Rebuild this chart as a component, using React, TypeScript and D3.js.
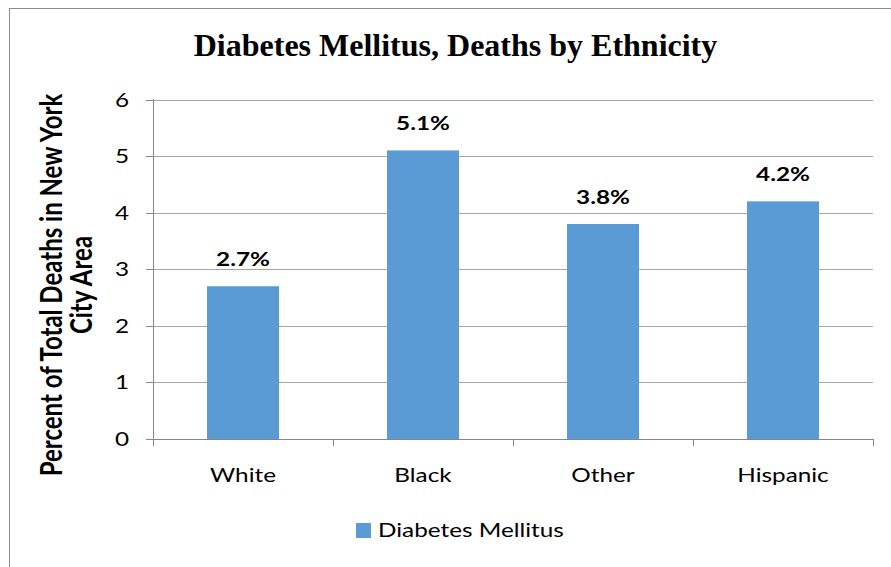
import React from "react";
import * as d3 from "d3";

const categories = ["White", "Black", "Other", "Hispanic"];
const values = [2.7, 5.1, 3.8, 4.2];
const valueLabels = ["2.7%", "5.1%", "3.8%", "4.2%"];
const yTicks = [0, 1, 2, 3, 4, 5, 6];
const seriesName = "Diabetes Mellitus";
const title = "Diabetes Mellitus, Deaths by Ethnicity";
const yLabelLines = ["Percent of Total Deaths in New York", "City Area"];

const W = 891;
const H = 567;
const SX = 1.28;
const SANS = "Lato, 'Open Sans', sans-serif";

export default function App() {
  const x = d3.scaleBand<string>().domain(categories).range([153, 873]).paddingInner(0.6).paddingOuter(0.3);
  const y = d3.scaleLinear().domain([0, 6]).range([439, 99.5]);
  const step = x.step();
  const boundaries = d3.range(categories.length + 1).map((i) => 153 + i * step);
  const st = (tx: number, ty: number) => `translate(${tx},${ty}) scale(${SX},1)`;

  return (
    <svg width={W} height={H} style={{ position: "absolute", left: 0, top: 0, background: "#fff" }}>
      <rect x={0} y={0} width={W} height={H} fill="#fff" />
      <rect x={9.5} y={8.5} width={1000} height={1000} fill="none" stroke="#8c8c8c" strokeWidth={1} />
      <text x={455.5} y={56} textAnchor="middle" fontFamily="'Liberation Serif', 'Times New Roman', serif" fontWeight="bold" fontSize={32}>
        {title}
      </text>
      {yTicks.map((t) => (
        <g key={t}>
          {t > 0 && <line x1={153} x2={873} y1={Math.round(y(t)) + 0.5} y2={Math.round(y(t)) + 0.5} stroke="#a6a6a6" />}
          <line x1={146} x2={153} y1={Math.round(y(t)) + 0.5} y2={Math.round(y(t)) + 0.5} stroke="#868686" />
          <text transform={st(129, y(t) + 7)} textAnchor="end" fontFamily={SANS} fontSize={19} fill="#000">
            {t}
          </text>
        </g>
      ))}
      {categories.map((c, i) => (
        <g key={c}>
          <rect x={x(c)} y={y(values[i])} width={x.bandwidth()} height={y(0) - y(values[i])} fill="#5b9bd5" />
          <text transform={st(x(c)! + x.bandwidth() / 2, y(values[i]) - 20)} textAnchor="middle" fontFamily={SANS} fontWeight="bold" fontSize={19} fill="#000">
            {valueLabels[i]}
          </text>
          <text transform={st(x(c)! + x.bandwidth() / 2, 482)} textAnchor="middle" fontFamily={SANS} fontSize={19} fill="#000">
            {c}
          </text>
        </g>
      ))}
      <line x1={153.5} x2={153.5} y1={99} y2={439} stroke="#868686" />
      <line x1={153} x2={873.5} y1={439.5} y2={439.5} stroke="#868686" />
      {boundaries.map((b, i) => (
        <line key={i} x1={Math.round(b) + 0.5} x2={Math.round(b) + 0.5} y1={439} y2={446} stroke="#868686" />
      ))}
      <g transform="translate(0,285) rotate(-90)">
        {yLabelLines.map((l, i) => (
          <text key={i} x={0} y={0} transform={`translate(0,${62 + i * 30}) scale(1,${SX})`} textAnchor="middle" fontFamily={SANS} fontWeight="bold" fontSize={24} fill="#000">
            {l}
          </text>
        ))}
      </g>
      <rect x={356} y={523} width={15} height={15} fill="#5b9bd5" />
      <text transform={st(378, 537)} fontFamily={SANS} fontSize={19} fill="#000">
        {seriesName}
      </text>
    </svg>
  );
}
